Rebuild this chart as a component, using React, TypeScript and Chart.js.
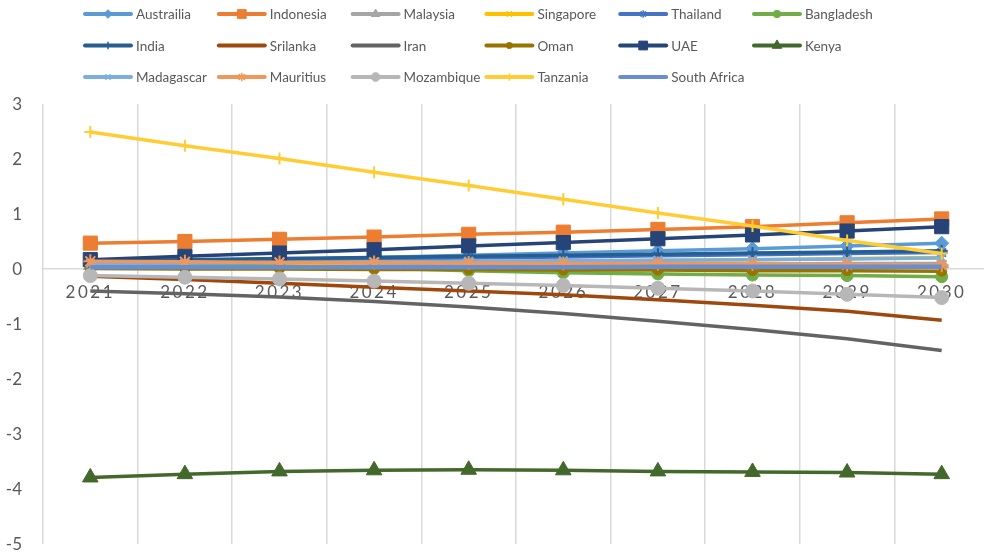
import React, { useEffect, useRef } from 'react';
import { Chart, registerables } from 'chart.js';
import { drawPoint } from 'chart.js/helpers';

Chart.register(...registerables);

// Categories
const years = ['2021', '2022', '2023', '2024', '2025', '2026', '2027', '2028', '2029', '2030'];

// Series values
const australia = [0.10, 0.14, 0.17, 0.21, 0.25, 0.29, 0.33, 0.37, 0.42, 0.47];
const indonesia = [0.47, 0.50, 0.54, 0.58, 0.63, 0.67, 0.72, 0.77, 0.84, 0.91];
const malaysia = [0.06, 0.06, 0.07, 0.07, 0.08, 0.08, 0.09, 0.09, 0.10, 0.10];
const singapore = [0.08, 0.09, 0.10, 0.12, 0.13, 0.14, 0.16, 0.17, 0.19, 0.21];
const thailand = [0.12, 0.14, 0.16, 0.18, 0.20, 0.22, 0.24, 0.26, 0.28, 0.30];
const bangladesh = [0.10, 0.08, 0.05, 0.02, -0.03, -0.07, -0.09, -0.11, -0.12, -0.14];
const india = [0.15, 0.17, 0.19, 0.21, 0.23, 0.25, 0.27, 0.29, 0.31, 0.33];
const srilanka = [-0.13, -0.19, -0.26, -0.33, -0.40, -0.47, -0.56, -0.66, -0.77, -0.93];
const iran = [-0.40, -0.45, -0.51, -0.59, -0.69, -0.81, -0.95, -1.10, -1.27, -1.48];
const oman = [0.01, 0.0, 0.0, -0.01, -0.01, -0.02, -0.02, -0.03, -0.03, -0.04];
const uae = [0.17, 0.23, 0.29, 0.35, 0.42, 0.48, 0.55, 0.62, 0.69, 0.77];
const kenya = [-3.79, -3.73, -3.68, -3.66, -3.65, -3.66, -3.68, -3.69, -3.70, -3.73];
const madagascar = [0.10, 0.11, 0.12, 0.13, 0.14, 0.15, 0.16, 0.17, 0.18, 0.20];
const mauritius = [0.14, 0.13, 0.12, 0.12, 0.11, 0.10, 0.10, 0.09, 0.08, 0.07];
const mozambique = [-0.12, -0.15, -0.18, -0.22, -0.26, -0.30, -0.35, -0.40, -0.46, -0.52];
const tanzania = [2.49, 2.24, 2.01, 1.76, 1.52, 1.27, 1.02, 0.78, 0.52, 0.28];
const southAfrica = [0.03, 0.03, 0.03, 0.03, 0.03, 0.03, 0.04, 0.04, 0.04, 0.04];

// Y axis tick range and labels
const yMin = -5;
const yMax = 3;
const yTickValues = [3, 2, 1, 0, -1, -2, -3, -4, -5];

type SeriesDef = {
  label: string;
  data: number[];
  color: string;
  marker: string | false;
  radius: number;
  width: number;
};

const series: SeriesDef[] = [
  { label: 'Austrailia', data: australia, color: '#5B9BD5', marker: 'rectRot', radius: 7, width: 3.5 },
  { label: 'Indonesia', data: indonesia, color: '#ED7D31', marker: 'rect', radius: 10, width: 3.5 },
  { label: 'Malaysia', data: malaysia, color: '#A5A5A5', marker: 'triangle', radius: 8, width: 3.5 },
  { label: 'Singapore', data: singapore, color: '#FFC000', marker: 'crossRot', radius: 6, width: 3.5 },
  { label: 'Thailand', data: thailand, color: '#4472C4', marker: 'star', radius: 6, width: 3.5 },
  { label: 'Bangladesh', data: bangladesh, color: '#70AD47', marker: 'circle', radius: 6, width: 3.5 },
  { label: 'India', data: india, color: '#255E91', marker: 'cross', radius: 6, width: 3.5 },
  { label: 'Srilanka', data: srilanka, color: '#9E480E', marker: false, radius: 0, width: 3.5 },
  { label: 'Iran', data: iran, color: '#636363', marker: false, radius: 0, width: 3.5 },
  { label: 'Oman', data: oman, color: '#997300', marker: 'circle', radius: 5, width: 3.5 },
  { label: 'UAE', data: uae, color: '#264478', marker: 'rect', radius: 10, width: 3.5 },
  { label: 'Kenya', data: kenya, color: '#43682B', marker: 'triangle', radius: 9, width: 3.5 },
  { label: 'Madagascar', data: madagascar, color: '#7CAFDD', marker: 'crossRot', radius: 6, width: 3.5 },
  { label: 'Mauritius', data: mauritius, color: '#F1975A', marker: 'star', radius: 7, width: 3.5 },
  { label: 'Mozambique', data: mozambique, color: '#B7B7B7', marker: 'circle', radius: 7, width: 3.5 },
  { label: 'Tanzania', data: tanzania, color: '#FFCD33', marker: 'cross', radius: 6, width: 3.5 },
  { label: 'South Africa', data: southAfrica, color: '#698ED0', marker: false, radius: 0, width: 4.5 },
];

const TEXT_COLOR = '#595959';
const GRID_COLOR = '#D9D9D9';
const FONT = 'Lato';

// Legend grid: six columns, three rows above the plot
const gridLegend = {
  id: 'gridLegend',
  afterDraw(chart: any) {
    const ctx = chart.ctx as CanvasRenderingContext2D;
    const left = 83;
    const colW = 133.8;
    const top = 14;
    const rowH = 31.5;
    ctx.save();
    (ctx as any).letterSpacing = '0px';
    ctx.font = `13.5px ${FONT}`;
    ctx.textBaseline = 'middle';
    ctx.textAlign = 'left';
    series.forEach((s, i) => {
      const x = left + (i % 6) * colW;
      const y = top + Math.floor(i / 6) * rowH;
      ctx.strokeStyle = s.color;
      ctx.fillStyle = s.color;
      ctx.lineWidth = 4;
      ctx.lineCap = 'round';
      ctx.beginPath();
      ctx.moveTo(x + 2, y);
      ctx.lineTo(x + 48, y);
      ctx.stroke();
      if (s.marker) {
        const lined = ['cross', 'crossRot', 'star'].includes(s.marker as string);
        ctx.lineWidth = lined ? 1.5 : 1;
        ctx.lineCap = 'butt';
        drawPoint(ctx, { pointStyle: s.marker as any, radius: s.radius * 0.62, rotation: 0, borderWidth: 1 }, x + 25, y);
      }
      ctx.fillStyle = TEXT_COLOR;
      ctx.fillText(s.label, x + 53, y + 1);
    });
    ctx.restore();
  },
};

// Spaced digits on the category labels; value labels drawn plainly at the left
const axisText = {
  id: 'axisText',
  beforeDraw(chart: any) {
    (chart.ctx as any).letterSpacing = '2.5px';
  },
  beforeDatasetsDraw(chart: any) {
    const ctx = chart.ctx as CanvasRenderingContext2D;
    (ctx as any).letterSpacing = '0px';
    const y = chart.scales.y;
    ctx.save();
    ctx.font = `17px ${FONT}`;
    ctx.fillStyle = TEXT_COLOR;
    ctx.textAlign = 'right';
    ctx.textBaseline = 'middle';
    yTickValues.forEach((v) => {
      ctx.fillText(String(v), 22, y.getPixelForValue(v) + 1);
    });
    ctx.restore();
  },
};

export default function App() {
  const canvasRef = useRef<HTMLCanvasElement | null>(null);

  useEffect(() => {
    const canvas = canvasRef.current;
    if (!canvas) return;
    const n = series.length;
    const chart = new Chart(canvas, {
      type: 'line',
      data: {
        labels: years,
        datasets: series.map((s, i) => {
          const lined = s.marker === 'cross' || s.marker === 'crossRot' || s.marker === 'star';
          return {
            label: s.label,
            data: s.data,
            borderColor: s.color,
            backgroundColor: s.color,
            borderWidth: s.width,
            tension: 0,
            pointStyle: s.marker as any,
            pointRadius: s.radius,
            pointHoverRadius: s.radius,
            pointBackgroundColor: s.color,
            pointBorderColor: s.color,
            pointBorderWidth: lined ? 2 : 1,
            order: n - 1 - i,
          };
        }),
      },
      options: {
        responsive: false,
        maintainAspectRatio: false,
        animation: false,
        devicePixelRatio: 1,
        layout: { padding: { top: 104, bottom: 12, left: 0, right: 7 } },
        plugins: {
          legend: { display: false },
          tooltip: { enabled: false },
        },
        scales: {
          x: {
            type: 'category',
            position: { y: 0 } as any,
            offset: true,
            grid: {
              display: true,
              offset: true,
              color: GRID_COLOR,
              lineWidth: 1.5,
              drawTicks: false,
            },
            border: { display: true, color: GRID_COLOR, width: 1.5 },
            ticks: {
              color: TEXT_COLOR,
              font: { family: FONT, size: 17 },
              padding: 13,
              autoSkip: false,
              maxRotation: 0,
              minRotation: 0,
            },
            afterFit: (scale: any) => {
              scale.height = 0;
            },
          },
          y: {
            type: 'linear',
            min: yMin,
            max: yMax,
            grid: { display: false, drawTicks: false },
            border: { display: false },
            ticks: { display: false, stepSize: 1 },
            afterFit: (scale: any) => {
              scale.width = 43;
            },
          },
        },
      },
      plugins: [axisText, gridLegend],
    });
    return () => chart.destroy();
  }, []);

  return (
    <div style={{ position: 'fixed', left: 0, top: 0, width: 1000, height: 556, background: '#fff' }}>
      <canvas ref={canvasRef} width={1000} height={556} style={{ display: 'block' }} />
    </div>
  );
}
